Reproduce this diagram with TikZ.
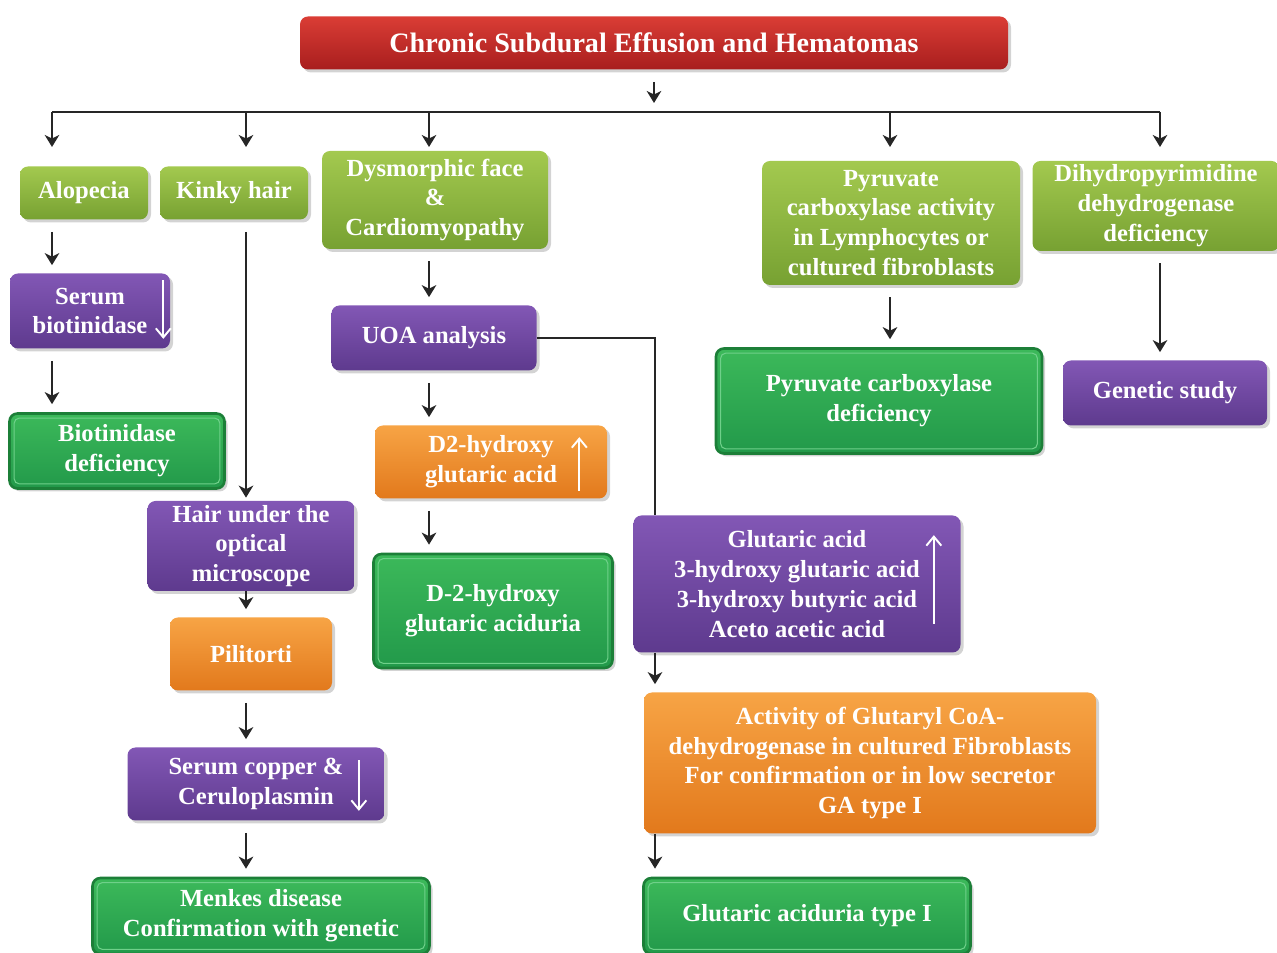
\documentclass[tikz,border=0pt]{standalone}
\usepackage{fontspec}
\setmainfont{Liberation Serif}
\usetikzlibrary{arrows.meta, shadows}
\definecolor{tA}{HTML}{DA3D35}
\definecolor{tB}{HTML}{A81E1E}
\definecolor{lgA}{HTML}{A3C94F}
\definecolor{lgB}{HTML}{77A132}
\definecolor{puA}{HTML}{8257B5}
\definecolor{puB}{HTML}{5E3A8E}
\definecolor{orA}{HTML}{F7A445}
\definecolor{orB}{HTML}{E2791C}
\definecolor{dgA}{HTML}{3CB95A}
\definecolor{dgB}{HTML}{22994A}
\definecolor{dgC}{HTML}{1C7F38}
\definecolor{dgL}{HTML}{6FD08A}

\begin{document}
\begin{tikzpicture}[x=0.2mm, y=-0.2mm,
    box/.style 2 args={rounded corners=1.6mm, minimum width=#1*0.2mm, minimum height=#2*0.2mm,
        inner sep=0pt, align=center, text=white, font=\bfseries\fontsize{14}{17}\selectfont,
        drop shadow={shadow xshift=0.6mm, shadow yshift=-0.6mm, opacity=0.35}},
    red/.style={top color=tA, bottom color=tB},
    lg/.style={top color=lgA, bottom color=lgB},
    pu/.style={top color=puA, bottom color=puB},
    or/.style={top color=orA, bottom color=orB},
    dg/.style={top color=dgA, bottom color=dgB, draw=dgC, line width=1.5pt},
    line/.style={line width=1.6pt, black!85},
    arr/.style={line, -{Stealth[length=2.4mm,width=2.9mm,inset=0.7mm]}},
    link/.style={arr, shorten <=2.4mm, shorten >=1.6mm},
    warr/.style={white, line width=1.1pt, -{Straight Barb[length=1.8mm,width=3mm]}},
    frame/.style={dgL, line width=0.6pt, rounded corners=1mm}]
\useasboundingbox (0,0) rectangle (1277,953);

\node[box={708}{53}, red, font=\bfseries\fontsize{16}{19}\selectfont] (title) at (654,43) {Chronic Subdural Effusion and Hematomas};

\node[box={128}{53}, lg] (alo) at (84,193) {Alopecia};
\node[box={148}{53}, lg] (kinky) at (234,193) {Kinky hair};
\node[box={226}{98}, lg] (dys) at (435,200) {Dysmorphic face\\ \&\\ Cardiomyopathy};
\node[box={258}{124}, lg] (pyr) at (891,223) {Pyruvate\\ carboxylase activity\\ in Lymphocytes or\\ cultured fibroblasts};
\node[box={247}{90}, lg] (dihy) at (1156,206) {Dihydropyrimidine\\ dehydrogenase\\ deficiency};

\node[box={160}{75}, pu] (serum) at (90,311) {Serum\\ biotinidase};
\node[box={215}{75}, dg] (biodef) at (117,451) {Biotinidase\\ deficiency};

\node[box={207}{90}, pu] (hair) at (251,546) {Hair under the\\ optical\\ microscope};
\node[box={162}{73}, or] (pili) at (251,654) {Pilitorti};
\node[box={257}{73}, pu] (copper) at (256,784) {Serum copper \&\\ Ceruloplasmin};
\node[box={337}{76}, dg] (menkes) at (261,916) {Menkes disease\\ Confirmation with genetic};

\node[box={205}{65}, pu] (uoa) at (434,338) {UOA analysis};
\node[box={232}{73}, or] (d2) at (491,462) {D2-hydroxy\\ glutaric acid};
\node[box={239}{114}, dg] (d2ac) at (493,611) {D-2-hydroxy\\ glutaric aciduria};

\node[box={327}{137}, pu] (glu) at (797,584) {Glutaric acid\\ 3-hydroxy glutaric acid\\ 3-hydroxy butyric acid\\ Aceto acetic acid};
\node[box={452}{141}, or] (act) at (870,763) {Activity of Glutaryl CoA-\\ dehydrogenase in cultured Fibroblasts\\ For confirmation or in low secretor\\ GA type I};
\node[box={327}{76}, dg] (gat1) at (807,916) {Glutaric aciduria type I};

\node[box={326}{105}, dg] (pcd) at (879,401) {Pyruvate carboxylase\\ deficiency};
\node[box={204}{65}, pu] (gen) at (1165,393) {Genetic study};

\foreach \n in {biodef,menkes,d2ac,gat1,pcd}
    \draw[frame] ([shift={(6,-6)}]\n.south west) rectangle ([shift={(-6,6)}]\n.north east);

\coordinate (bar) at (654,112);
\coordinate (tip) at (0,147);
\foreach \n/\c in {c1/52,c2/246,c3/429,c4/655,c5/890,c6/1160}
    \coordinate (\n) at (\c,0);

\draw[arr, shorten <=2.4mm, shorten >=1.8mm] (title.south) -- (bar);
\draw[line] (c1 |- bar) -- (c6 |- bar);
\foreach \c in {c1,c2,c3,c5,c6}
    \draw[arr] (\c |- bar) -- (\c |- tip);

\draw[link] (c1 |- alo.south) -- (c1 |- serum.north);
\draw[link] (c1 |- serum.south) -- (c1 |- biodef.north);
\draw[link, shorten >=0.6mm] (c2 |- kinky.south) -- (c2 |- hair.north);
\draw[link, shorten <=0mm] (c2 |- hair.south) -- (c2 |- pili.north);
\draw[link] (c2 |- pili.south) -- (c2 |- copper.north);
\draw[link] (c2 |- copper.south) -- (c2 |- menkes.north);
\draw[link] (c3 |- dys.south) -- (c3 |- uoa.north);
\draw[link] (c3 |- uoa.south) -- (c3 |- d2.north);
\draw[link] (c3 |- d2.south) -- (c3 |- d2ac.north);
\draw[line] (uoa.east) -| (c4 |- glu.north);
\draw[link, shorten <=0mm] (c4 |- glu.south) -- (c4 |- act.north);
\draw[link, shorten <=0mm] (c4 |- act.south) -- (c4 |- gat1.north);
\draw[link] (c5 |- pyr.south) -- (c5 |- pcd.north);
\draw[link] (c6 |- dihy.south) -- (c6 |- gen.north);

\draw[warr] ([shift={(-7,7)}]serum.north east) -- ([shift={(-7,-10)}]serum.south east);
\draw[warr] ([shift={(-26,13)}]copper.north east) -- ([shift={(-26,-10)}]copper.south east);
\draw[warr] ([shift={(-28,-8)}]d2.south east) -- ([shift={(-28,12)}]d2.north east);
\draw[warr] ([shift={(-27,-29)}]glu.south east) -- ([shift={(-27,20)}]glu.north east);
\end{tikzpicture}
\end{document}
